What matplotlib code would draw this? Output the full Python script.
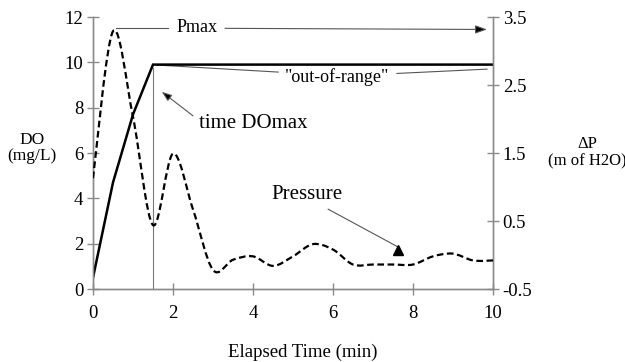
import numpy as np
import matplotlib
matplotlib.use("Agg")
import matplotlib.pyplot as plt
from matplotlib.path import Path
from matplotlib.patches import PathPatch

plt.rcParams['font.family'] = ['Liberation Serif', 'DejaVu Serif']

# Elapsed time (min), sampled every 30 s
time_min = [0, 0.5, 1.0, 1.5, 2.0, 2.5, 3.0, 3.5, 4.0, 4.5, 5.0,
            5.5, 6.0, 6.5, 7.0, 7.5, 8.0, 8.5, 9.0, 9.5, 10.0]
# Dissolved oxygen (mg/L) - saturates the probe after 1.5 min
do_mgl = [0.5, 4.7, 7.7, 9.9, 9.9, 9.9, 9.9, 9.9, 9.9, 9.9, 9.9,
          9.9, 9.9, 9.9, 9.9, 9.9, 9.9, 9.9, 9.9, 9.9, 9.9]
# Pressure difference (m of H2O)
dp_m = [1.13, 3.29, 2.03, 0.44, 1.49, 0.67, -0.22, -0.07, -0.02, -0.16, -0.02,
        0.16, 0.08, -0.14, -0.14, -0.14, -0.14, -0.02, 0.02, -0.08, -0.08]

left_ticks = [0, 2, 4, 6, 8, 10, 12]
right_ticks = [-0.5, 0.5, 1.5, 2.5, 3.5]
x_ticks = [0, 2, 4, 6, 8, 10]

AXIS_GREY = '#8a8a8a'


def smooth_path(xs, ys):
    """Bezier path through the points (Catmull-Rom style smoothing)."""
    pts = np.column_stack([xs, ys]).astype(float)
    n = len(pts)
    verts = [pts[0]]
    codes = [Path.MOVETO]
    for i in range(n - 1):
        p0 = pts[i - 1] if i > 0 else pts[i]
        p1 = pts[i]
        p2 = pts[i + 1]
        p3 = pts[i + 2] if i + 2 < n else pts[i + 1]
        c1 = p1 + (p2 - p0) / 6.0
        c2 = p2 - (p3 - p1) / 6.0
        verts += [c1, c2, p2]
        codes += [Path.CURVE4] * 3
    return Path(verts, codes)


fig = plt.figure(figsize=(6.25, 3.62), dpi=100)
ax = fig.add_axes([93 / 625, 73 / 362, 400 / 625, 272 / 362])
ax2 = ax.twinx()

ax.set_xlim(0, 10)
ax.set_ylim(0, 12)
ax2.set_ylim(-0.5, 3.5)

# DO trace
ax.plot(time_min, do_mgl, color='black', lw=1.8, solid_joinstyle='miter', zorder=5)

# Pressure trace (smoothed, dashed)
patch = PathPatch(smooth_path(time_min, dp_m), fill=False, edgecolor='black',
                  lw=1.6, linestyle=(0, (3, 1.6)), transform=ax2.transData, zorder=5)
ax2.add_patch(patch)

# marker line for the time DO reaches its maximum
ax.plot([1.5, 1.5], [0, 9.75], color='#777777', lw=0.8, zorder=3)

for a in (ax, ax2):
    a.spines['top'].set_visible(False)
    for s in ('left', 'right', 'bottom'):
        a.spines[s].set_color(AXIS_GREY)
        a.spines[s].set_linewidth(1.0)
    a.patch.set_visible(False)

ax.set_xticks(x_ticks)
ax.set_yticks(left_ticks)
ax2.set_yticks(right_ticks)
ax2.set_yticklabels(['-0.5', '0.5', '1.5', '2.5', '3.5'])
ax.tick_params(axis='both', direction='inout', length=8, width=1.0,
               color=AXIS_GREY, labelsize=13.5)
ax.tick_params(axis='y', pad=3)
ax.tick_params(axis='x', pad=7.5)
ax2.tick_params(axis='y', direction='inout', length=8, width=1.0,
                color=AXIS_GREY, labelsize=13.5, pad=3)

# axis titles
fig.text(32 / 625, 1 - 140 / 362, 'DO', ha='center', va='center', fontsize=12.5)
fig.text(32 / 625, 1 - 156 / 362, '(mg/L)', ha='center', va='center', fontsize=12.5)
fig.text(587 / 625, 1 - 144 / 362, '\u0394P', ha='center', va='center', fontsize=12)
fig.text(587 / 625, 1 - 161.5 / 362, '(m of H2O)', ha='center', va='center', fontsize=12)
fig.text(303 / 625, 1 - 352 / 362, 'Elapsed Time (min)', ha='center', va='center',
         fontsize=13.5)

ann_col = '#555555'

# Pmax call-out
ax.plot([0.58, 1.88], [11.5, 11.5], color=ann_col, lw=0.8, clip_on=False)
ax.text(2.61, 11.36, 'Pmax', ha='center', va='baseline', fontsize=13)
ax.annotate('', xy=(9.85, 11.45), xytext=(3.3, 11.5), annotation_clip=False,
            arrowprops=dict(arrowstyle='-|>,head_length=0.7,head_width=0.25',
                            color=ann_col, lw=0.8, shrinkA=0, shrinkB=0,
                            fc='black'))

# "out-of-range" call-out
ax.plot([1.6, 4.63], [9.88, 9.57], color=ann_col, lw=0.8)
ax.plot([7.6, 9.85], [9.51, 9.7], color=ann_col, lw=0.8)
ax.text(6.11, 9.14, '"out-of-range"', ha='center', va='baseline', fontsize=13)

# time DOmax call-out
ax.text(2.65, 7.09, 'time DOmax', ha='left', va='baseline', fontsize=15)
ax.annotate('', xy=(1.72, 8.7), xytext=(2.5, 7.64),
            arrowprops=dict(arrowstyle='-|>,head_length=0.6,head_width=0.22',
                            color=ann_col, lw=0.8, shrinkA=0, shrinkB=0, fc='black'))

# Pressure call-out
ax.text(4.45, 3.97, 'Pressure', ha='left', va='baseline', fontsize=15)
ax.plot([5.88, 7.63], [3.52, 1.85], color=ann_col, lw=0.8)
ax.plot([7.63], [1.72], marker='^', color='black', ms=7, zorder=6)

fig.savefig('out.png', dpi=100)
